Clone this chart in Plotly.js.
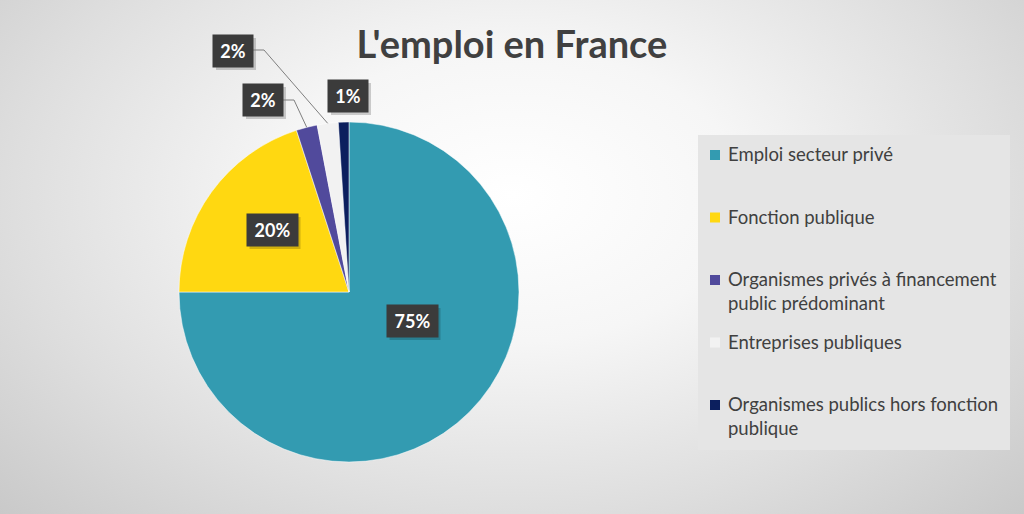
<!DOCTYPE html>
<html>
<head>
<meta charset="utf-8">
<script src="https://cdn.plot.ly/plotly-3.0.1.min.js"></script>
<style>
html,body{margin:0;padding:0;}
body{width:1024px;height:514px;overflow:hidden;
background:radial-gradient(ellipse 75% 95% at 50% 38%, #ffffff 0%, #f6f6f6 30%, #dedede 65%, #c4c4c4 100%);}
#chart{width:1024px;height:514px;}
</style>
</head>
<body>
<div id="chart"></div>
<script>
// ---- data ----
const categories = [
  "Emploi secteur privé",
  "Fonction publique",
  "Organismes privés à financement<br>public prédominant",
  "Entreprises publiques",
  "Organismes publics hors fonction<br>publique"
];
const shares = [75, 20, 2, 2, 1];
const colors = ["#339bb1", "#ffd811", "#514a9c", "#f2f2f2", "#0c1f5e"];
const chartTitle = "L'emploi en France";

// ---- geometry (pixels) ----
const W = 1024, H = 514;
const cx = 349, cy = 292, R = 170;
const px = x => x / W;
const py = y => 1 - y / H;
const FONT = "Lato, 'Open Sans', sans-serif";

const total = shares.reduce((a, b) => a + b, 0);
const pct = shares.map(v => Math.round(v / total * 100) + "%");
// point on the arc at the middle angle of slice i
function arcPoint(i, f) {
  let cum = 0;
  for (let k = 0; k < i; k++) cum += shares[k];
  const mid = (cum + shares[i] / 2) / total * 2 * Math.PI;
  return [cx + f * R * Math.sin(mid), cy - f * R * Math.cos(mid)];
}

// label box centres (pixels), matching the reference placement
const labelPos = [[412, 321], [272, 230], [263, 100], [233, 51], [348, 96]];

const annotations = [];
const shapes = [];

// label shadows (shapes) and labels (annotations)
const PAD = 7;
labelPos.forEach((p, i) => {
  const bw = pct[i].length > 2 ? 51 : 40, bh = 32;
  shapes.push({type: "rect", xref: "paper", yref: "paper", layer: "above",
    x0: px(p[0] - bw / 2 + 3), x1: px(p[0] + bw / 2 + 3),
    y0: py(p[1] + bh / 2 + 3), y1: py(p[1] - bh / 2 + 3),
    fillcolor: "rgba(0,0,0,0.18)", line: {width: 0}});
  annotations.push({
    x: px(p[0]), y: py(p[1]), xref: "paper", yref: "paper",
    xanchor: "center", yanchor: "middle", showarrow: false,
    width: bw - 2 * PAD, height: bh - 2 * PAD,
    text: "<b>" + pct[i] + "</b>",
    font: {family: FONT, size: 18, color: "#ffffff"},
    bgcolor: "#3b3b3b", borderpad: PAD
  });
});

// leader lines for the two outside labels with connectors
function leader(i, boxRightX, y) {
  const end = arcPoint(i, 1.0);
  const knee = [boxRightX + 11, y];
  shapes.push({type: "path", xref: "paper", yref: "paper",
    path: `M${px(boxRightX)},${py(y)} L${px(knee[0])},${py(knee[1])} L${px(end[0])},${py(end[1])}`,
    line: {color: "#7f7f7f", width: 1}});
}
leader(2, 283, 100);
leader(3, 253, 50);

// legend: background box, colour keys and texts
shapes.unshift({type: "rect", xref: "paper", yref: "paper", layer: "below",
  x0: px(698), x1: px(1010), y0: py(450), y1: py(135),
  fillcolor: "#e5e5e5", line: {width: 0}});
const legTop = 155, legStep = 62.5, legFont = 18.5;
categories.forEach((c, i) => {
  const yc = legTop + i * legStep;
  shapes.push({type: "rect", xref: "paper", yref: "paper",
    x0: px(710), x1: px(720), y0: py(yc + 5), y1: py(yc - 5),
    fillcolor: colors[i], line: {width: 0}});
  annotations.push({
    x: px(727), y: py(yc - legFont * 0.68), xref: "paper", yref: "paper",
    xanchor: "left", yanchor: "top", align: "left", showarrow: false,
    text: c, borderpad: 0,
    font: {family: FONT, size: legFont, color: "#404040"}
  });
});

const trace = {
  type: "pie",
  labels: categories.map(c => c.replace("<br>", " ")),
  values: shares,
  sort: false,
  direction: "clockwise",
  rotation: 0,
  textinfo: "none",
  hoverinfo: "label+percent",
  marker: {colors: colors, line: {color: "#ffffff", width: 0.5}},
  domain: {x: [px(cx - R), px(cx + R)], y: [py(cy + R), py(cy - R)]}
};

const layout = {
  width: W, height: H,
  margin: {l: 0, r: 0, t: 0, b: 0},
  paper_bgcolor: "rgba(0,0,0,0)",
  plot_bgcolor: "rgba(0,0,0,0)",
  title: {text: "<b>" + chartTitle + "</b>",
    font: {family: FONT, size: 38, color: "#404040"},
    x: 0.5, xanchor: "center", y: py(45), yanchor: "middle"},
  showlegend: false,
  annotations: annotations,
  shapes: shapes
};

Plotly.newPlot("chart", [trace], layout, {displayModeBar: false, staticPlot: true});
</script>
</body>
</html>
